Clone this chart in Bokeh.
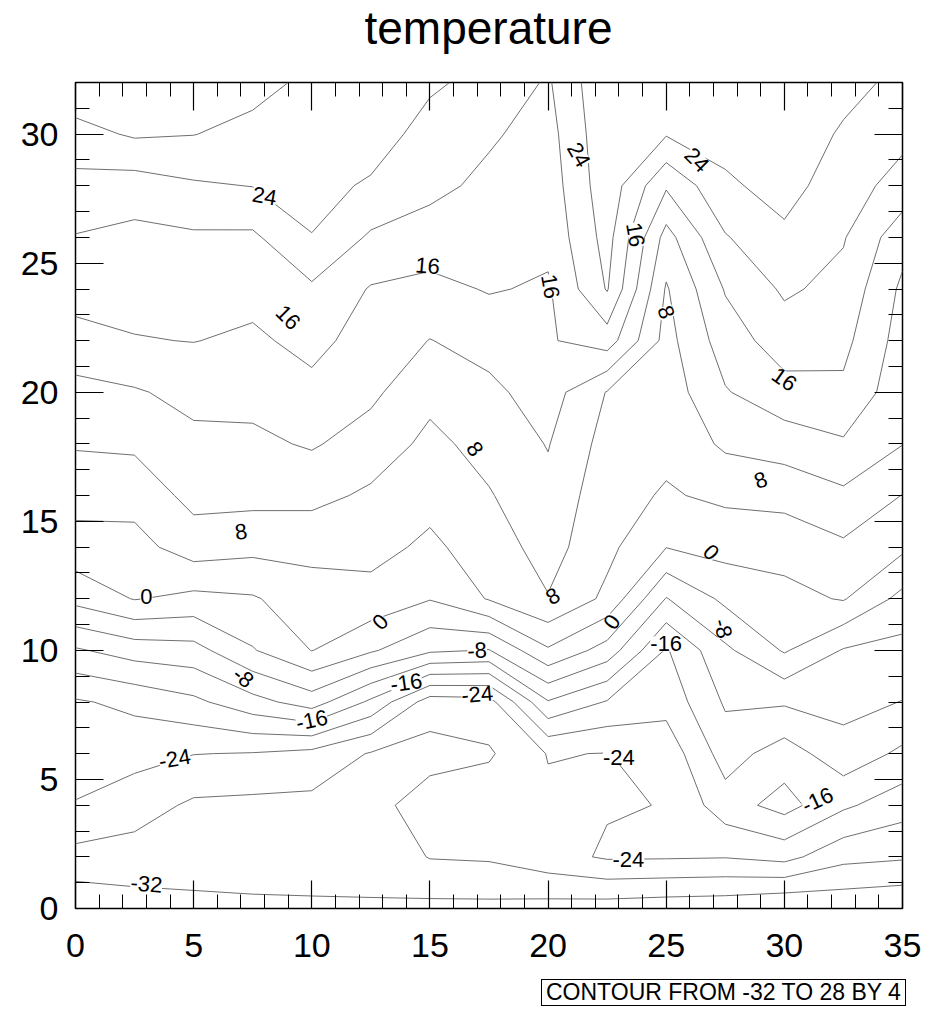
import numpy as np
from bokeh.plotting import figure
from bokeh.layouts import column
from bokeh.models import Range1d, LinearAxis, FixedTicker, ColumnDataSource, LabelSet, Div
from bokeh.core.properties import value
from bokeh.embed import file_html
from bokeh.resources import INLINE

# grid coordinates
x_coords = [0, 2.5, 5, 7.5, 10, 12.5, 15, 17.5, 20, 22.5, 25, 27.5, 30, 32.5, 35]
y_coords = [0, 2, 4, 6, 8, 10, 12, 14, 16, 18, 20, 22, 24, 26, 28, 30, 32]

# temperature values, one row per y
t_y00 = [-35.0, -33.6, -32.7, -32.5, -32.4, -32.3, -33.0, -33.0, -33.5, -33.9, -34.4, -34.7, -36.0, -35.1, -35.7]
t_y02 = [-29.3, -29.8, -30.7, -30.7, -30.75, -30.9, -27.8, -27.5, -25.5, -23.5, -23.6, -23.8, -22.7, -26.8, -27.5]
t_y04 = [-24.2, -26.1, -28.7, -29.0, -29.1, -29.4, -26.0, -25.5, -24.8, -24.3, -23.9, -17.8, -14.5, -19.3, -22.3]
t_y06 = [-22.3, -22.7, -23.9, -24.2, -25.2, -28.3, -29.5, -28.5, -23.8, -24.1, -22.5, -14.2, -18.0, -13.5, -16.8]
t_y08 = [-20.45, -19.0, -16.9, -13.4, -10.1, -16.8, -26.0, -25.5, -12.3, -16.3, -18.6, -11.5, -11.5, -10.8, -12.1]
t_y10 = [-12.5, -10.2, -9.5, -4.3, 0.1, -3.5, -7.3, -8.2, -0.5, -5.7, -16.4, -8.8, -3.6, -8.3, -9.3]
t_y12 = [-2.7, 0.2, -1.1, -0.4, 2.3, 2.6, 0.2, 4.3, 7.8, 3.1, -8.2, -3.1, -1.2, 0.3, -5.2]
t_y14 = [2.3, 2.6, 6.0, 5.1, 5.1, 5.3, 3.2, 6.0, 9.6, 5.0, 0.1, 1.4, 1.5, 3.3, 0.8]
t_y16 = [5.6, 5.5, 9.2, 9.2, 9.2, 7.3, 5.3, 7.7, 10.9, 5.5, 3.6, 4.8, 5.3, 7.2, 3.9]
t_y18 = [8.35, 8.7, 11.0, 11.2, 12.4, 10.3, 7.0, 9.4, 12.2, 6.5, 5.0, 8.7, 9.8, 11.5, 8.1]
t_y20 = [10.7, 11.6, 13.2, 13.2, 14.9, 12.8, 9.1, 11.1, 13.8, 7.8, 5.8, 11.7, 14.6, 15.2, 9.5]
t_y22 = [14.6, 15.8, 16.1, 15.3, 17.2, 14.25, 11.9, 13.4, 15.6, 18.0, 6.6, 14.0, 18.0, 17.1, 10.3]
t_y24 = [17.6, 17.4, 17.75, 17.3, 19.35, 15.7, 14.8, 16.3, 15.5, 24.3, 7.6, 16.3, 20.6, 18.8, 11.2]
t_y26 = [19.8, 18.9, 19.4, 19.3, 23.9, 19.4, 18.3, 17.7, 17.0, 25.5, 10.5, 19.7, 23.2, 20.3, 13.5]
t_y28 = [22.7, 22.1, 23.5, 24.1, 25.0, 23.6, 21.0, 19.1, 17.8, 26.5, 16.5, 23.3, 25.5, 21.8, 18.5]
t_y30 = [26.6, 28.5, 28.1, 26.7, 26.0, 25.5, 22.8, 20.5, 18.5, 27.0, 24.3, 25.5, 26.5, 23.5, 21.0]
t_y32 = [31.0, 30.5, 30.5, 29.5, 27.0, 26.5, 24.5, 23.0, 19.5, 27.5, 26.0, 27.0, 27.0, 25.3, 23.0]

contour_levels = [-32, -28, -24, -20, -16, -12, -8, -4, 0, 4, 8, 12, 16, 20, 24, 28]

x_major_ticks = [0, 5, 10, 15, 20, 25, 30, 35]
x_minor_ticks = [0, 1, 2, 3, 4, 5, 6, 7, 8, 9, 10, 11, 12, 13, 14, 15, 16, 17, 18, 19,
                 20, 21, 22, 23, 24, 25, 26, 27, 28, 29, 30, 31, 32, 33, 34, 35]
y_major_ticks = [0, 5, 10, 15, 20, 25, 30]
y_minor_ticks = [0, 1, 2, 3, 4, 5, 6, 7, 8, 9, 10, 11, 12, 13, 14, 15, 16, 17, 18, 19,
                 20, 21, 22, 23, 24, 25, 26, 27, 28, 29, 30, 31, 32]

# contour line labels
label_text = ["-32", "-24", "0", "-8", "-16", "8", "16", "24", "16", "8", "0", "-16", "-8", "-24",
              "8", "0", "-16", "-24", "-24", "0", "-8", "-16", "8", "16", "8", "16", "16", "24", "24"]
label_x = [3.0, 4.2, 3.0, 7.1, 10.0, 7.0, 9.0, 8.0, 14.9, 16.9, 12.9, 14.0, 17.0, 17.0,
           20.2, 22.7, 25.0, 23.0, 23.4, 26.9, 27.4, 31.4, 29.0, 30.0, 25.0, 23.7, 20.1, 21.3, 26.3]
label_y = [0.95, 5.8, 12.1, 8.95, 7.3, 14.6, 22.9, 27.6, 24.9, 17.8, 11.1, 8.75, 10.0, 8.3,
           12.1, 11.1, 10.25, 5.85, 1.9, 13.8, 10.85, 4.2, 16.6, 20.5, 23.1, 26.1, 24.1, 29.2, 29.0]
label_angle = [-5, 10, 0, -38, 12, 8, -45, -10, -5, -55, 45, 8, 3, 5,
               30, 55, 0, 0, 0, -45, -75, 25, 20, -35, -70, -80, -80, -60, -45]

title_text = "temperature"
info_text = "CONTOUR FROM -32 TO 28 BY 4"

FONT = "Liberation Sans"

# title (HTML text above the figure), centred over the plot frame
title_div = Div(
    text=('<div style="padding-top:6px; margin-left:52px; width:873px; text-align:center; '
          'font-family:\'Liberation Sans\'; font-size:46px; line-height:45px; '
          'color:black; white-space:nowrap;">' + title_text + '</div>'),
    width=925, height=60, margin=0)

p = figure(width=925, height=918, x_range=Range1d(0, 35), y_range=Range1d(0, 32),
           output_backend="svg", toolbar_location=None,
           min_border_left=75, min_border_right=23, min_border_top=22, min_border_bottom=70)

p.grid.visible = False
p.background_fill_color = "white"
p.border_fill_color = "white"
p.outline_line_color = "black"
p.outline_line_width = 1.5

z = np.array([t_y00, t_y02, t_y04, t_y06, t_y08, t_y10, t_y12, t_y14, t_y16,
              t_y18, t_y20, t_y22, t_y24, t_y26, t_y28, t_y30, t_y32])
p.contour(x_coords, y_coords, z, contour_levels, line_color="#6f6f6f", line_width=1.0)

src = ColumnDataSource(dict(x=label_x, y=label_y, text=label_text, angle=label_angle))
labels = LabelSet(x="x", y="y", text="text", angle="angle", angle_units="deg", source=src,
                  text_align="center", text_baseline="middle", text_font=value(FONT),
                  text_font_size="22px", text_color="black", background_fill_color="white")
p.add_layout(labels)

def style_axis(ax, ticks, minor, show_labels, standoff):
    ax.ticker = FixedTicker(ticks=ticks, minor_ticks=minor)
    ax.major_tick_in = 28
    ax.major_tick_out = 0
    ax.minor_tick_in = 14
    ax.minor_tick_out = 0
    ax.major_tick_line_color = "black"
    ax.minor_tick_line_color = "black"
    ax.major_tick_line_width = 1.2
    ax.minor_tick_line_width = 1.0
    ax.axis_line_color = None
    ax.major_label_text_font = FONT
    ax.major_label_standoff = standoff
    if show_labels:
        ax.major_label_text_color = "black"
        ax.major_label_text_font_size = "34px"
    else:
        ax.major_label_text_color = None
        ax.major_label_text_font_size = "1px"

style_axis(p.xaxis[0], x_major_ticks, x_minor_ticks, True, 25)
style_axis(p.yaxis[0], y_major_ticks, y_minor_ticks, True, 17)

top_axis = LinearAxis()
style_axis(top_axis, x_major_ticks, x_minor_ticks, False, 0)
p.add_layout(top_axis, "above")
right_axis = LinearAxis()
style_axis(right_axis, y_major_ticks, y_minor_ticks, False, 0)
p.add_layout(right_axis, "right")

# information box (HTML text below the figure)
info_div = Div(
    text=('<div style="display:block; width:max-content; margin-left:541px; margin-top:1px; '
          'padding:0px 4px; border:1px solid black; font-family:\'Liberation Sans\'; '
          'font-size:23px; line-height:25px; color:black; white-space:nowrap;">'
          + info_text + '</div>'),
    width=925, height=38, margin=0)

layout = column(title_div, p, info_div, spacing=0)

open("out.html", "w").write(file_html(layout, INLINE))
